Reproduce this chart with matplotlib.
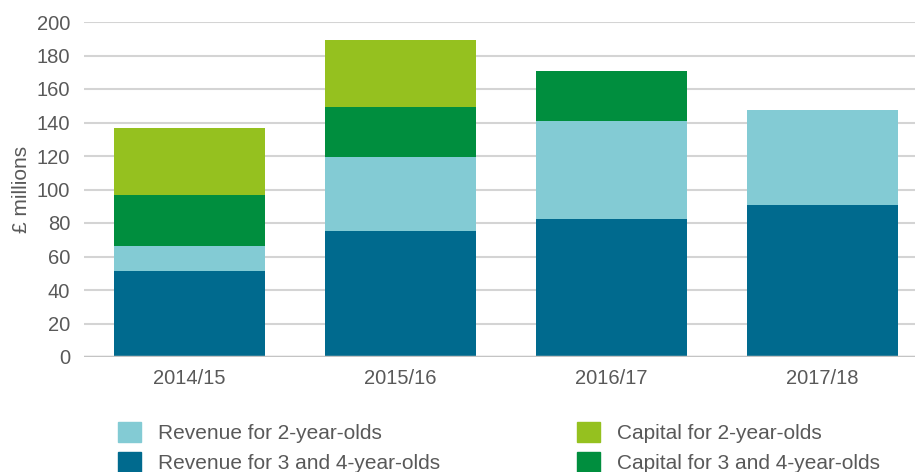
import numpy as np
import matplotlib
matplotlib.use("Agg")
import matplotlib.pyplot as plt
from matplotlib.patches import Patch

plt.rcParams["font.family"] = ["Liberation Sans", "DejaVu Sans"]

years = ["2014/15", "2015/16", "2016/17", "2017/18"]
revenue_34 = [51.5, 75.5, 82.5, 91]
revenue_2 = [15, 44, 58.5, 56.5]
capital_34 = [30, 30, 30, 0]
capital_2 = [40.5, 39.5, 0, 0]

c_rev34 = "#006a8e"
c_rev2 = "#83cbd4"
c_cap34 = "#008e3e"
c_cap2 = "#95c11f"
text_col = "#595959"

fig = plt.figure(figsize=(9.15, 4.72), dpi=100)
ax = fig.add_axes([84 / 915, 1 - 357 / 472, 1 - 84 / 915, (357 - 22) / 472])

x = np.arange(len(years))
w = 0.72
bottom = np.zeros(len(years))
for vals, col in [(revenue_34, c_rev34), (revenue_2, c_rev2),
                  (capital_34, c_cap34), (capital_2, c_cap2)]:
    ax.bar(x, vals, w, bottom=bottom, color=col, zorder=3, linewidth=0)
    bottom += np.array(vals)

ax.set_ylim(0, 200)
ax.set_xlim(-0.5, 3.5 - 13 / 211)
ax.set_yticks(range(0, 201, 20))
ax.set_xticks(x)
ax.set_xticklabels(years)
ax.grid(axis="y", color="#d4d4d4", linewidth=1.5, zorder=0)
ax.axhline(0, color="#c4c4c4", linewidth=2.5, zorder=4)
for s in ax.spines.values():
    s.set_visible(False)
ax.tick_params(axis="both", length=0, labelsize=14.5, colors=text_col)
ax.tick_params(axis="y", pad=10)
ax.tick_params(axis="x", pad=9)
ax.set_ylabel("£ millions", fontsize=15, color=text_col, labelpad=4)

leg_kw = dict(frameon=False, fontsize=15, handlelength=1.1, handleheight=1.1,
              handletextpad=0.8, labelspacing=0.42, labelcolor=text_col,
              borderaxespad=0, borderpad=0)
fig.legend(handles=[Patch(color=c_rev2), Patch(color=c_rev34)],
           labels=["Revenue for 2-year-olds", "Revenue for 3 and 4-year-olds"],
           loc="upper left", bbox_to_anchor=(118 / 915, 1 - 422 / 472), **leg_kw)
fig.legend(handles=[Patch(color=c_cap2), Patch(color=c_cap34)],
           labels=["Capital for 2-year-olds", "Capital for 3 and 4-year-olds"],
           loc="upper left", bbox_to_anchor=(577 / 915, 1 - 422 / 472), **leg_kw)

fig.savefig("out.png", dpi=100)
